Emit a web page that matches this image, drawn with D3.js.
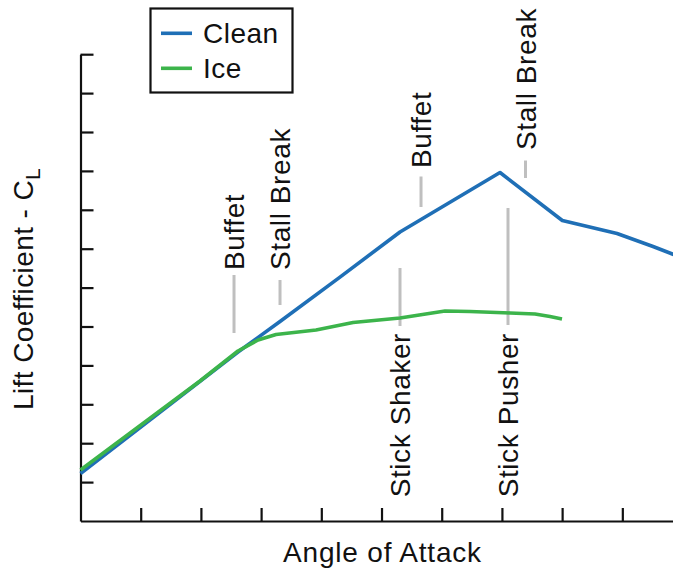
<!DOCTYPE html>
<html>
<head>
<meta charset="utf-8">
<script src="https://cdn.jsdelivr.net/npm/d3@7"></script>
<style>
  html, body { margin: 0; padding: 0; background: #ffffff; }
  svg { display: block; font-family: "Liberation Sans", Arial, Helvetica, sans-serif; }
</style>
</head>
<body>
<svg id="chart" width="673" height="571"></svg>
<script>
// ---- data (axis units: x = angle of attack, y = lift coefficient) ----
const seriesNames = ["Clean", "Ice"];
const cleanX = [0, 2.616, 3.314, 4.310, 5.307, 6.968, 8.003, 8.912, 9.510, 9.85];
const cleanY = [1.221, 4.344, 5.129, 6.270, 7.429, 8.959, 7.725, 7.391, 7.057, 6.851];
const iceX = [0, 1.985, 2.616, 2.949, 3.248, 3.912, 4.527, 5.307, 6.055, 6.470, 7.135, 7.550, 7.799, 7.998];
const iceY = [1.311, 3.599, 4.370, 4.653, 4.794, 4.910, 5.103, 5.219, 5.398, 5.386, 5.347, 5.321, 5.257, 5.193];

const xTicks = [1, 2, 3, 4, 5, 6, 7, 8, 9];
const yTicks = [1, 2, 3, 4, 5, 6, 7, 8, 9, 10, 11, 12];

const annLabels = ["Buffet", "Stall Break", "Buffet", "Stall Break", "Stick Shaker", "Stick Pusher"];
const annX      = [2.550, 3.314, 5.656, 7.392, 5.307, 7.101];
const annLow    = [4.833, 5.553, 8.072, 8.817, 5.013, 5.039];
const annHigh   = [6.324, 6.195, 8.856, 9.267, 6.504, 8.046];
const annTextY  = [6.452, 6.452, 9.075, 9.537, 4.833, 4.833];
const annSide   = ["above", "above", "above", "above", "below", "below"];

const xLabel = "Angle of Attack";
const yLabel = "Lift Coefficient - C";
const yLabelSub = "L";

// ---- layout ----
const svg = d3.select("#chart");
const colors = { Clean: "#1f6fb6", Ice: "#3cb44b" };
const x = d3.scaleLinear().domain([0, 9.85]).range([80.5, 673.5]);
const y = d3.scaleLinear().domain([0, 12]).range([521, 54.2]);
const FS = 28;

// axes
const gx = svg.append("g").attr("transform", `translate(0,${y(0)})`)
  .call(d3.axisBottom(x).tickValues(xTicks).tickSizeInner(-13).tickSizeOuter(0).tickFormat(""));
const gy = svg.append("g").attr("transform", `translate(${x(0)},0)`)
  .call(d3.axisLeft(y).tickValues(yTicks).tickSizeInner(-13).tickSizeOuter(0).tickFormat(""));
[gx, gy].forEach(g => {
  g.select(".domain").attr("stroke", "#111").attr("stroke-width", 2.2);
  g.selectAll(".tick line").attr("stroke", "#111").attr("stroke-width", 2.2);
});

// annotation guide lines
annLabels.forEach((lab, i) => {
  svg.append("line")
    .attr("x1", x(annX[i])).attr("x2", x(annX[i]))
    .attr("y1", y(annLow[i])).attr("y2", y(annHigh[i]))
    .attr("stroke", "#bfbfbf").attr("stroke-width", 3);
  const tx = x(annX[i]), ty = y(annTextY[i]);
  svg.append("text")
    .attr("transform", `translate(${tx},${ty}) rotate(-90)`)
    .attr("dy", "0.36em")
    .attr("text-anchor", annSide[i] === "above" ? "start" : "end")
    .attr("font-size", FS).attr("letter-spacing", 0.6).attr("fill", "#111")
    .text(lab);
});

// series lines
const line = d3.line().x(d => x(d[0])).y(d => y(d[1]));
const cleanData = cleanX.map((v, i) => [v, cleanY[i]]);
const iceData = iceX.map((v, i) => [v, iceY[i]]);
svg.append("path").datum(cleanData).attr("d", line)
  .attr("fill", "none").attr("stroke", colors.Clean).attr("stroke-width", 3.6)
  .attr("stroke-linejoin", "round");
svg.append("path").datum(iceData).attr("d", line)
  .attr("fill", "none").attr("stroke", colors.Ice).attr("stroke-width", 3.6)
  .attr("stroke-linejoin", "round");

// axis titles
svg.append("text").attr("x", 382.5).attr("y", 562).attr("text-anchor", "middle")
  .attr("font-size", FS).attr("letter-spacing", 0.8).attr("fill", "#111").text(xLabel);
const yl = svg.append("text").attr("transform", "translate(33,410) rotate(-90)")
  .attr("font-size", 28).attr("letter-spacing", 0.4).attr("fill", "#111");
yl.append("tspan").text(yLabel);
yl.append("tspan").attr("font-size", 21).attr("dy", 7).text(yLabelSub);

// legend
const lg = svg.append("g");
lg.append("rect").attr("x", 150.5).attr("y", 8.5).attr("width", 142).attr("height", 84)
  .attr("fill", "#fff").attr("stroke", "#111").attr("stroke-width", 2.2);
seriesNames.forEach((name, i) => {
  const cy = 33.3 + i * 35;
  lg.append("line").attr("x1", 161).attr("x2", 192).attr("y1", cy).attr("y2", cy)
    .attr("stroke", colors[name]).attr("stroke-width", 3.6);
  lg.append("text").attr("x", 203).attr("y", cy + 10)
    .attr("font-size", FS).attr("letter-spacing", 0.5).attr("fill", "#111").text(name);
});
</script>
</body>
</html>
